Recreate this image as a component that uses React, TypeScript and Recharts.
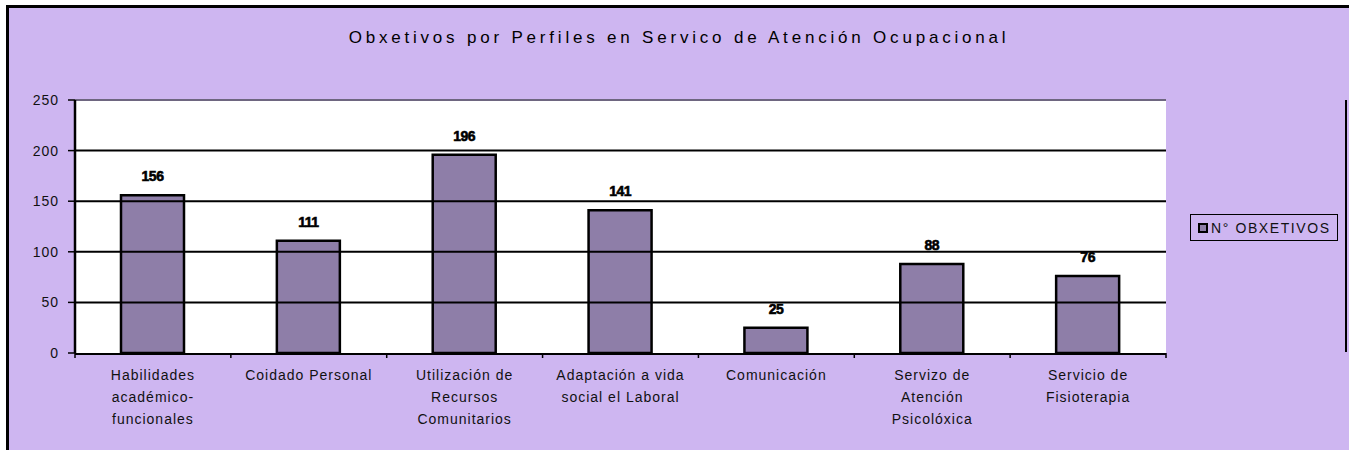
import React from 'react';
import { BarChart, Bar, XAxis, YAxis, CartesianGrid, ReferenceLine, LabelList, Legend } from 'recharts';

const categories = [
  'Habilidades\nacadémico-\nfuncionales',
  'Coidado Personal',
  'Utilización de\nRecursos\nComunitarios',
  'Adaptación a vida\nsocial el Laboral',
  'Comunicación',
  'Servizo de\nAtención\nPsicolóxica',
  'Servicio de\nFisioterapia',
];
const objectives = [156, 111, 196, 141, 25, 88, 76];
const yTicks = [0, 50, 100, 150, 200, 250];
const seriesName = 'N° OBXETIVOS';
const title = 'Obxetivos por Perfiles en Servico de Atención Ocupacional';

const data = categories.map((c, i) => ({ cat: c, value: objectives[i], idx: i }));
const boundaryTicks = categories.map((_, i) => i).concat([categories.length]);

const BG = '#CEB6F1';
const BAR = '#8E7EA8';
const FONT = 'Arial, "Liberation Sans", sans-serif';

const CatTick = (props: any) => {
  const { x, y, payload } = props;
  const lines = String(payload.value).split('\n');
  return (
    <text x={x} y={y} textAnchor="middle" fontFamily={FONT} fontSize={14} fill="#111" style={{ letterSpacing: '1px' }}>
      {lines.map((l, i) => (
        <tspan key={i} x={x} dy={i === 0 ? 26 : 22}>{l}</tspan>
      ))}
    </text>
  );
};

const EmptyTick = () => <g />;

const LegendBox = () => (
  <div
    style={{
      width: 146,
      height: 25,
      border: '1px solid #000',
      display: 'flex',
      alignItems: 'center',
      fontFamily: FONT,
      fontSize: 14,
      letterSpacing: '1.6px',
      color: '#111',
      boxSizing: 'content-box',
    }}
  >
    <span style={{ display: 'inline-block', width: 6, height: 6, border: '2px solid #000', background: BAR, marginLeft: 7, marginRight: 3 }} />
    <span>{seriesName}</span>
  </div>
);

export default function App() {
  return (
    <div style={{ position: 'absolute', left: 6, top: 5, width: 1343, height: 445, background: BG, borderTop: '3px solid #000', borderLeft: '3px solid #000' }}>
      <div style={{ position: 'absolute', left: 1336, top: 92, width: 2, height: 252, background: '#000' }} />
      <div
        style={{
          position: 'absolute',
          left: 0,
          width: 1340,
          top: 21,
          textAlign: 'center',
          fontFamily: FONT,
          fontSize: 17,
          letterSpacing: '3.8px',
          color: '#000',
          lineHeight: '17px',
        }}
      >
        {title}
      </div>
      <BarChart
        width={1340}
        height={442}
        data={data}
        margin={{ top: 92, right: 183, bottom: 95, left: 0 }}
        barSize={63}
      >
        <CartesianGrid xAxisId="c" yAxisId="l" horizontal={false} vertical={false} fill="#ffffff" stroke="none" />
        <XAxis
          xAxisId="c"
          dataKey="cat"
          type="category"
          interval={0}
          tick={<CatTick />}
          tickLine={false}
          axisLine={{ stroke: '#000', strokeWidth: 2 }}
          tickSize={0}
          tickMargin={0}
          height={1}
        />
        <XAxis
          xAxisId="b"
          type="number"
          dataKey="idx"
          domain={[0, categories.length]}
          ticks={boundaryTicks}
          interval={0}
          tick={<EmptyTick />}
          tickSize={5}
          tickLine={{ stroke: '#000', strokeWidth: 1.5 }}
          axisLine={false}
          height={1}
          allowDataOverflow
        />
        <YAxis
          yAxisId="l"
          width={66}
          domain={[0, 250]}
          ticks={yTicks}
          interval={0}
          tickSize={7}
          tickMargin={9}
          tickLine={{ stroke: '#000', strokeWidth: 1.5 }}
          axisLine={{ stroke: '#000', strokeWidth: 2.5 }}
          tick={{ fontFamily: FONT, fontSize: 14, fill: '#111', style: { letterSpacing: '1px' } }}
        />
        <YAxis
          yAxisId="r"
          orientation="right"
          width={0}
          domain={[0, 250]}
          tick={false}
          tickLine={false}
          axisLine={{ stroke: '#6E6680', strokeWidth: 2 }}
        />
        <ReferenceLine xAxisId="c" yAxisId="l" y={yTicks[yTicks.length - 1]} stroke="#6E6680" strokeWidth={2} />
        {yTicks.slice(1, -1).map((t) => (
          <ReferenceLine key={t} xAxisId="c" yAxisId="l" y={t} stroke="#000" strokeWidth={2} />
        ))}
        <Legend
          layout="horizontal"
          verticalAlign="middle"
          align="center"
          content={<LegendBox />}
          wrapperStyle={{ left: 1181, top: 206, width: 148, height: 27 }}
        />
        <Bar
          xAxisId="c"
          yAxisId="l"
          dataKey="value"
          name={seriesName}
          fill={BAR}
          stroke="#000"
          strokeWidth={2.5}
          isAnimationActive={false}
        >
          <LabelList
            dataKey="value"
            position="top"
            offset={14}
            style={{ fontFamily: FONT, fontSize: 14, fontWeight: 'bold', fill: '#000', stroke: '#000', strokeWidth: 0.6, letterSpacing: '-0.5px' }}
          />
        </Bar>
      </BarChart>
    </div>
  );
}
